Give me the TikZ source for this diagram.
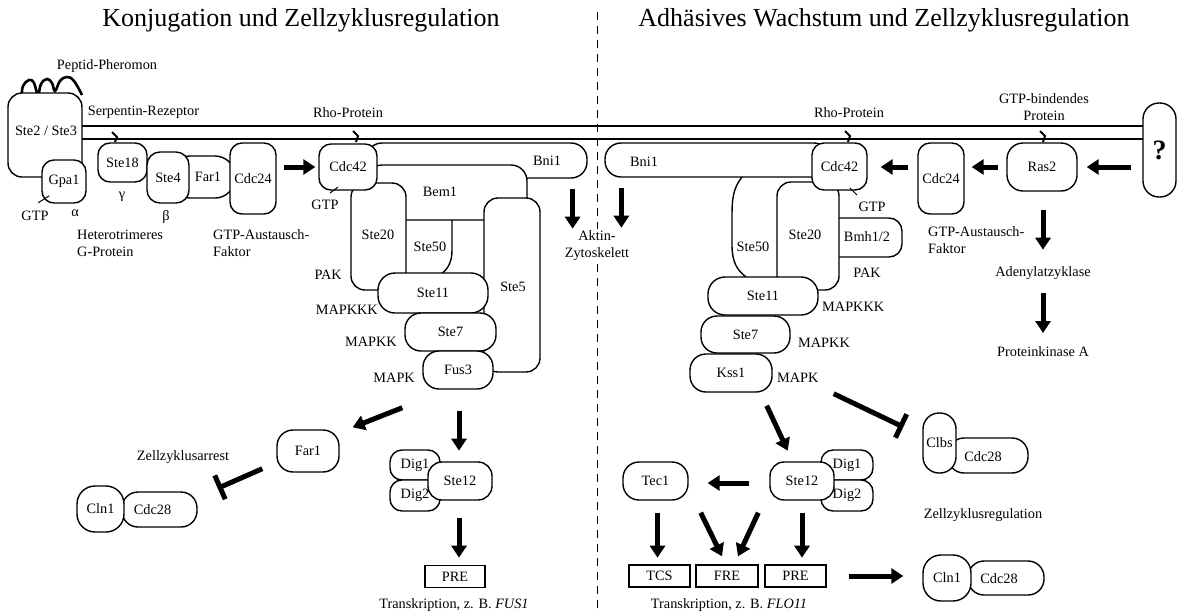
\documentclass[tikz,border=0pt]{standalone}
\usepackage{fontspec}
\setmainfont{Liberation Serif}
\usetikzlibrary{arrows.meta,calc}
\newcommand\lbl{\fontsize{14.3}{17}\selectfont}
\newcommand\ttl{\fontsize{26}{30}\selectfont}

\begin{document}
\begin{tikzpicture}[x=1pt, y=-1pt, font=\lbl,
    prot/.style={draw, fill=white, line width=1.4pt, rounded corners=14pt, inner sep=0pt},
    elem/.style={draw, fill=white, line width=1.4pt, inner sep=0pt, minimum width=61pt, minimum height=22pt},
    sz/.style 2 args={minimum width=#1pt, minimum height=#2pt},
    txt/.style={inner sep=0pt},
    arr/.style={line width=5pt, -{Triangle[width=15pt,length=12pt]}},
    inh/.style={line width=5pt, -{Bar[width=26pt]}},
    lipid/.style={line width=2pt},
    tick/.style={line width=1pt}]
\useasboundingbox (0,0) rectangle (1177,614);

% titles and divider
\node[font=\ttl] (titleL) at (301,20) {Konjugation und Zellzyklusregulation};
\node[font=\ttl] (titleR) at (884,20) {Adhäsives Wachstum und Zellzyklusregulation};
\draw[line width=1pt, dash pattern=on 8pt off 6pt] (597,12) -- (597,614);

% membrane
\draw[line width=1.4pt] (70,126) -- (1150,126);
\draw[line width=1.4pt] (70,139) -- (1150,139);

% receptor and G-protein
\draw[line width=2.6pt] plot[smooth, tension=0.7] coordinates {(22,95) (23,86) (29,80) (34,83) (38,95) (41,84) (47,79) (52,83) (55,91) (60,81) (67,77) (74,81) (82,95)};
\node[txt] (pher) at (107,66) {Peptid-Pheromon};
\node[prot, sz={74}{84}] (ste23) at (45,135) {};
\node[txt] (ste23txt) at (46,131) {Ste2 / Ste3};
\node[prot, rounded corners=12pt, sz={44}{43}] (gpa1) at (64,181.5) {Gpa1};
\node[prot, rounded corners=12pt, sz={49}{39}] (ste18) at (122.5,162.5) {Ste18};
\node[prot, rounded corners=20pt, sz={65}{42}] (far1T) at (202.5,177) {};
\node[txt] (far1Ttxt) at (208,177) {Far1};
\node[prot, rounded corners=13pt, sz={42}{51}] (ste4) at (168,177.5) {Ste4};
\node[prot, rounded corners=12pt, sz={46}{71}] (cdc24L) at (253,178.5) {Cdc24};
\draw[lipid] (112,132) -- (117,137) -- (115,142);
\draw[tick] ($(gpa1.south west)+(-3,-1)$) -- ++(11,-7);
\node[txt] (gtpA) at (35,216) {GTP};
\node[txt] (alpha) at (75,213) {α};
\node[txt] (gamma) at (122,197) {γ};
\node[txt] (beta) at (166,217) {β};
\node[txt] (serp) at (143.5,112) {Serpentin-Rezeptor};
\node[txt, anchor=west, align=left] (hetero) at (77,243.5) {Heterotrimeres\\G-Protein};
\node[txt, anchor=west, align=left] (gefL) at (213,243.5) {GTP-Austausch-\\Faktor};

% left MAPK module
\node[txt] (rhoL) at (348,113) {Rho-Protein};
\node[prot, rounded corners=16pt, sz={221}{35}] (bni1Lbox) at (476.5,160.5) {};
\node[txt] (bni1L) at (547,161) {Bni1};
\node[prot, rounded corners=16pt, sz={161}{55}] (bem1box) at (446.5,192.5) {};
\node[txt] (bem1) at (440,192) {Bem1};
\node[prot, sz={56}{174}] (ste5box) at (512,285) {};
\node[txt] (ste5) at (513,287) {Ste5};
\node[prot, sz={55}{107}] (ste20Lbox) at (378.5,236.5) {};
\node[txt] (ste20L) at (378,235) {Ste20};
\node[prot, rounded corners=12pt, sz={58}{46}] (cdc42L) at (348,167) {Cdc42};
\draw[lipid] (353,131) -- (358,136) -- (356,142);
\draw[line width=1.4pt] (452,220) -- (452,250) .. controls (452,262) and (448,269) .. (441,274);
\node[txt] (ste50L) at (430,247) {Ste50};
\node[prot, rounded corners=17pt, sz={110}{40}] (ste11L) at (433,293) {Ste11};
\node[prot, rounded corners=16pt, sz={91}{38}] (ste7L) at (450.5,332) {Ste7};
\node[prot, rounded corners=16pt, sz={70}{38}] (fus3) at (458,370) {Fus3};
\draw[tick] (330,193) -- (338,187);
\node[txt] (gtpL) at (325,205) {GTP};
\node[txt, anchor=east] (pakL) at (342,275) {PAK};
\node[txt, anchor=east] (mapkkkL) at (378,310) {MAPKKK};
\node[txt, anchor=east] (mapkkL) at (397,342) {MAPKK};
\node[txt, anchor=east] (mapkL) at (415,378) {MAPK};
\node[txt, align=center, fill=white, inner sep=2pt] (aktin) at (597,246) {Aktin-\\Zytoskelett};

% right MAPK module
\node[txt] (rhoR) at (849,113) {Rho-Protein};
\node[prot, rounded corners=16pt, sz={225}{34}] (bni1Rbox) at (717.5,160) {};
\node[txt] (bni1R) at (644,162) {Bni1};
\draw[line width=1.4pt] (742,177) .. controls (733,188) and (732,200) .. (732,215) -- (732,245) .. controls (732,262) and (737,270) .. (746,277);
\node[txt] (ste50R) at (753,247) {Ste50};
\node[prot, rounded corners=13pt, sz={77}{39}] (bmh) at (863.5,237.5) {};
\node[txt] (bmhtxt) at (867,237) {Bmh1/2};
\node[prot, sz={62}{108}] (ste20Rbox) at (808,236) {};
\node[txt] (ste20R) at (805,235) {Ste20};
\node[prot, rounded corners=12pt, sz={55}{47}] (cdc42R) at (839.5,166.5) {Cdc42};
\draw[lipid] (845,131) -- (850,136) -- (848,142);
\node[prot, rounded corners=17pt, sz={110}{38}] (ste11R) at (763,296) {Ste11};
\node[prot, rounded corners=16pt, sz={89}{37}] (ste7R) at (745.5,334.5) {Ste7};
\node[prot, rounded corners=16pt, sz={82}{38}] (kss1) at (731,373) {Kss1};
\draw[tick] (850,188) -- (857,195);
\node[txt] (gtpR) at (872,207) {GTP};
\node[txt] (pakR) at (867,273) {PAK};
\node[txt, anchor=west] (mapkkkR) at (822,307) {MAPKKK};
\node[txt, anchor=west] (mapkkR) at (798,343) {MAPKK};
\node[txt, anchor=west] (mapkR) at (777,378) {MAPK};

% Ras branch
\node[prot, rounded corners=12pt, sz={46}{71}] (cdc24R) at (941,178.5) {Cdc24};
\node[prot, rounded corners=16pt, sz={70}{48}] (ras2) at (1042,167) {Ras2};
\draw[lipid] (1040,131) -- (1045,136) -- (1043,142);
\node[prot, rounded corners=16pt, sz={33}{94}] (qbox) at (1159.5,150) {\fontsize{28}{30}\selectfont\bfseries ?};
\node[txt, align=center] (gtpbind) at (1044,107.5) {GTP-bindendes\\Protein};
\node[txt, anchor=west, align=left] (gefR) at (928,240.5) {GTP-Austausch-\\Faktor};
\node[txt] (adenyl) at (1043,273) {Adenylatzyklase};
\node[txt] (pka) at (1043,352) {Proteinkinase A};

% left nucleus
\node[prot, rounded corners=16pt, sz={62}{42}] (far1B) at (308,451) {Far1};
\node[txt] (arrest) at (183,457) {Zellzyklusarrest};
\node[prot, rounded corners=16pt, sz={75}{35}] (cdc28Lbox) at (159.5,509.5) {};
\node[txt] (cdc28L) at (152.5,510) {Cdc28};
\node[prot, rounded corners=18pt, sz={47}{46}] (cln1L) at (100.5,509) {Cln1};
\node[prot, rounded corners=12pt, sz={50}{30}] (dig1L) at (415,465) {Dig1};
\node[prot, rounded corners=12pt, sz={50}{31}] (dig2L) at (415,495.5) {Dig2};
\node[prot, rounded corners=14pt, sz={64}{38}] (ste12L) at (460,481) {Ste12};
\node[elem, minimum width=60pt] (preL) at (455,576.5) {PRE};
\node[txt] (transL) at (454,605) {Transkription, z. B. \textit{FUS1}};

% right nucleus
\node[prot, rounded corners=16pt, sz={65}{38}] (tec1) at (655.5,481) {Tec1};
\node[prot, rounded corners=12pt, sz={52}{30}] (dig1R) at (847,465) {Dig1};
\node[prot, rounded corners=12pt, sz={52}{31}] (dig2R) at (847,495.5) {Dig2};
\node[prot, rounded corners=14pt, sz={64}{38}] (ste12R) at (802,481) {Ste12};
\node[elem] (tcs) at (659.5,576) {TCS};
\node[elem, minimum width=62pt] (fre) at (727,576) {FRE};
\node[elem] (preR) at (795.5,576) {PRE};
\node[txt] (transR) at (729,605) {Transkription, z. B. \textit{FLO11}};
\node[prot, rounded corners=16pt, sz={80}{35}] (cdc28Ubox) at (988,455.5) {};
\node[txt] (cdc28U) at (983,457) {Cdc28};
\node[prot, rounded corners=16pt, sz={33}{60}] (clbs) at (939.5,443) {Clbs};
\node[txt] (regul) at (983,515) {Zellzyklusregulation};
\node[prot, rounded corners=16pt, sz={76}{34}] (cdc28Rbox) at (1006,578) {};
\node[txt] (cdc28R) at (999,579) {Cdc28};
\node[prot, rounded corners=18pt, sz={48}{46}] (cln1R) at (947,578) {Cln1};

% arrows
\draw[arr] ($(cdc24L.east |- cdc42L)+(7,0)$) -- ($(cdc42L.west)+(-3,0)$);
\draw[arr] ($(bni1Lbox.south -| aktin.north west)+(10,10)$) -- ++(0,40);
\draw[arr] ($(bni1Rbox.south -| aktin.north east)+(-10,10)$) -- ++(0,40);
\draw[arr] ($(qbox.west |- ras2)+(-11,0)$) -- ($(ras2.east)+(9,0)$);
\draw[arr] ($(ras2.west)+(-8,0)$) -- ($(cdc24R.east |- ras2)+(7,0)$);
\draw[arr] ($(cdc24R.west |- ras2)+(-9,0)$) -- ($(cdc42R.east |- ras2)+(13,0)$);
\draw[arr] ($(ras2.south)+(1,18)$) -- ++(0,40);
\draw[arr] ($(adenyl)+(0,20)$) -- ++(0,40);
\draw[arr] ($(fus3.south west)+(-20,18)$) -- ($(far1B.north east)+(13,-2)$);
\draw[arr] ($(fus3.south)+(1,21)$) -- ++(0,40);
\draw[arr] ($(ste12L.south)+(-1,17)$) -- ++(0,40);
\draw[inh] ($(far1B.south west)+(-14,-4)$) -- ($(cdc28Lbox.north east)+(20,-3)$);
\draw[arr] ($(kss1.south east)+(-6,13)$) -- ++(21,45);
\draw[inh] ($(kss1.south east)+(61,1)$) -- ($(clbs.west)+(-19,-16)$);
\draw[arr] ($(ste12R.west)+(-20,2)$) -- ($(tec1.east)+(19,2)$);
\draw[arr] ($(tec1.south)+(2,12)$) -- ++(0,45);
\draw[arr] ($(tec1.south east)+(12,12)$) -- ($(fre.north)+(-5,-8)$);
\draw[arr] ($(ste12R.south west)+(-11,12)$) -- ($(fre.north)+(11,-8)$);
\draw[arr] ($(ste12R.south)+(0,12)$) -- ++(0,45);
\draw[arr] ($(preR.east)+(22,0)$) -- ($(cln1R.west)+(-19,-2)$);
\end{tikzpicture}
\end{document}
